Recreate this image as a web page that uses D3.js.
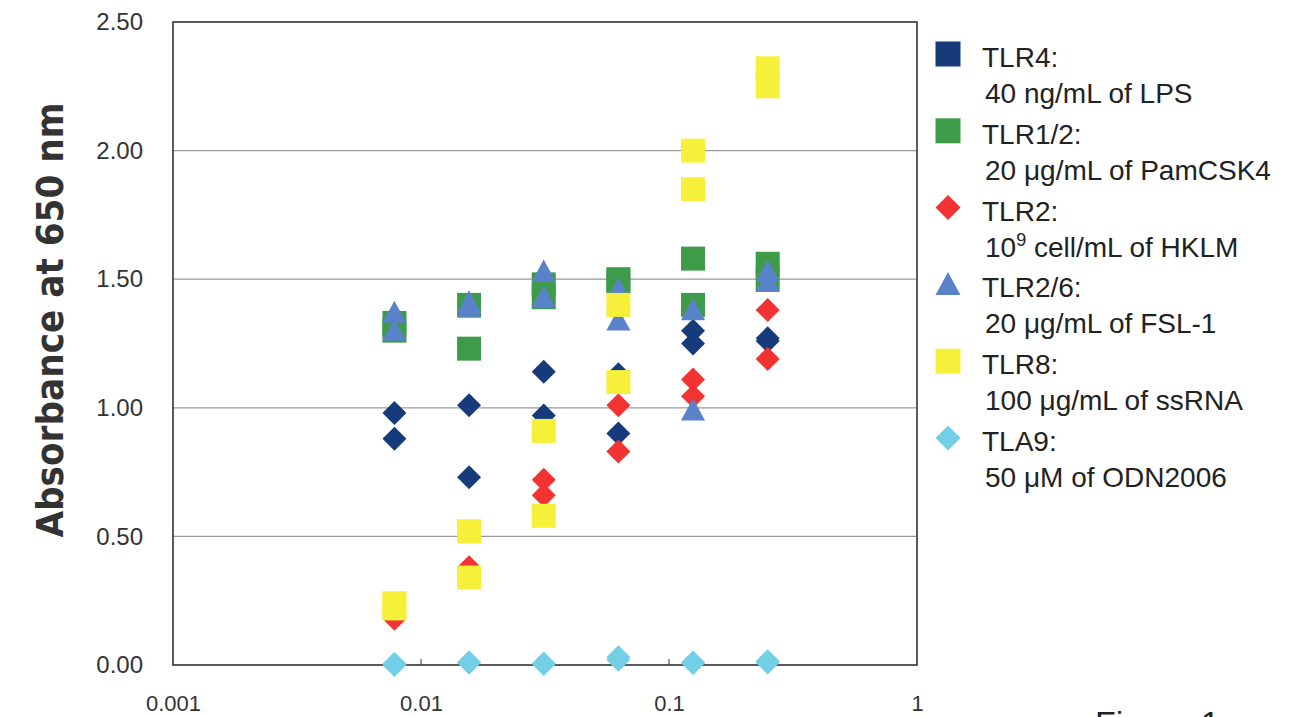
<!DOCTYPE html>
<html>
<head>
<meta charset="utf-8">
<script src="https://cdn.jsdelivr.net/npm/d3@7"></script>
<style>
  body { margin: 0; background: #fff; }
  svg { display: block; font-family: "Liberation Sans", Arial, sans-serif; }
</style>
</head>
<body>
<svg width="1305" height="717"></svg>
<script>
// concentrations (dilution series), two replicate readings per point
var concentrations = [0.0078125, 0.015625, 0.03125, 0.0625, 0.125, 0.25];

var tlr4  = [[0.98, 0.88], [1.01, 0.73], [1.14, 0.97], [1.13, 0.90], [1.30, 1.25], [1.27, 1.26]];
var tlr12 = [[1.33, 1.30], [1.40, 1.23], [1.48, 1.43], [1.50, 1.49], [1.58, 1.40], [1.56, 1.50]];
var tlr2  = [[0.18, 0.20], [0.38, 0.36], [0.72, 0.66], [1.01, 0.83], [1.11, 1.045], [1.38, 1.19]];
var tlr26 = [[1.37, 1.30], [1.41, 1.39], [1.53, 1.43], [1.46, 1.34], [1.38, 0.99], [1.53, 1.49]];
var tlr8  = [[0.24, 0.22], [0.52, 0.34], [0.91, 0.58], [1.40, 1.10], [2.00, 1.85], [2.32, 2.25]];
var tla9  = [[0.005, 0.0], [0.01, 0.01], [0.005, 0.005], [0.03, 0.02], [0.01, 0.008], [0.015, 0.01]];

var seriesNames = ['TLR4:', 'TLR1/2:', 'TLR2:', 'TLR2/6:', 'TLR8:', 'TLA9:'];
var seriesNotes = ['40 ng/mL of LPS', '20 \u03bcg/mL of PamCSK4', '10|9| cell/mL of HKLM',
                   '20 \u03bcg/mL of FSL-1', '100 \u03bcg/mL of ssRNA', '50 \u03bcM of ODN2006'];
var seriesColors = ['#173a7a', '#3d9b4a', '#f23332', '#5a82c8', '#f7f03a', '#72cfe6'];
var seriesShapes = ['diamond', 'square', 'diamond', 'triangle', 'square', 'diamond'];
var legendShapes = ['square', 'square', 'diamond', 'triangle', 'square', 'diamond'];

var yTicks = [0, 0.5, 1.0, 1.5, 2.0, 2.5];
var xTicks = [0.001, 0.01, 0.1, 1];
var xTickLabels = ['0.001', '0.01', '0.1', '1'];

var svg = d3.select('svg');

var plot = {l: 173, r: 917, t: 22, b: 665};

var x = d3.scaleLog().domain([0.001, 1]).range([plot.l, plot.r]);
var y = d3.scaleLinear().domain([0, 2.5]).range([plot.b, plot.t]);

// custom marker shapes, sized by width in px
var shapeTypes = {
    square: {draw: function(ctx, s) { var h = s / 2; ctx.rect(-h, -h, s, s); }},
    diamond: {draw: function(ctx, s) {
        var h = s / 2;
        ctx.moveTo(0, -h); ctx.lineTo(h, 0); ctx.lineTo(0, h); ctx.lineTo(-h, 0); ctx.closePath();
    }},
    triangle: {draw: function(ctx, s) {
        var h = s / 2;
        ctx.moveTo(0, -h); ctx.lineTo(h, h * 0.85); ctx.lineTo(-h, h * 0.85); ctx.closePath();
    }}
};
function marker(shape, size) {
    return d3.symbol().type(shapeTypes[shape]).size(size)();
}

// gridlines
svg.append('g').selectAll('line')
    .data(yTicks.filter(function(d) { return d > 0 && d < 2.5; }))
    .enter().append('line')
    .attr('x1', plot.l).attr('x2', plot.r)
    .attr('y1', function(d) { return y(d); })
    .attr('y2', function(d) { return y(d); })
    .attr('stroke', '#9a9a9a')
    .attr('stroke-width', 1.2);

// small inner ticks on the x axis
svg.append('g').selectAll('line')
    .data(xTicks.slice(1, 3))
    .enter().append('line')
    .attr('x1', function(d) { return x(d); }).attr('x2', function(d) { return x(d); })
    .attr('y1', plot.b).attr('y2', plot.b - 6)
    .attr('stroke', '#333');

// frame
svg.append('rect')
    .attr('x', plot.l).attr('y', plot.t)
    .attr('width', plot.r - plot.l).attr('height', plot.b - plot.t)
    .attr('fill', 'none')
    .attr('stroke', '#333')
    .attr('stroke-width', 1.6);

// axes
var yAxis = svg.append('g')
    .attr('transform', 'translate(' + plot.l + ',0)')
    .call(d3.axisLeft(y).tickValues(yTicks).tickSize(0).tickPadding(30).tickFormat(d3.format('.2f')));
yAxis.select('.domain').remove();
yAxis.selectAll('text')
    .attr('font-family', '"Liberation Sans", Arial, sans-serif')
    .attr('font-size', 24).attr('fill', '#333');

var xAxis = svg.append('g')
    .attr('transform', 'translate(0,' + plot.b + ')')
    .call(d3.axisBottom(x).tickValues(xTicks).tickSize(0).tickPadding(30)
        .tickFormat(function(d, i) { return xTickLabels[i]; }));
xAxis.select('.domain').remove();
xAxis.selectAll('text')
    .attr('font-family', '"Liberation Sans", Arial, sans-serif')
    .attr('font-size', 22).attr('fill', '#333');

// y axis title
svg.append('text')
    .attr('transform', 'translate(63,320) rotate(-90)')
    .attr('text-anchor', 'middle')
    .attr('font-family', '"DejaVu Sans", sans-serif')
    .attr('font-weight', 'bold')
    .attr('font-size', 38)
    .attr('textLength', 435)
    .attr('lengthAdjust', 'spacingAndGlyphs')
    .attr('fill', '#333')
    .text('Absorbance at 650 nm');

// data points, drawn in legend order
var allSeries = [tlr4, tlr12, tlr2, tlr26, tlr8, tla9];
allSeries.forEach(function(series, si) {
    var pts = [];
    series.forEach(function(reps, ci) {
        reps.forEach(function(v) { pts.push({c: concentrations[ci], v: v}); });
    });
    svg.append('g').selectAll('path')
        .data(pts)
        .enter().append('path')
        .attr('transform', function(d) { return 'translate(' + x(d.c) + ',' + y(d.v) + ')'; })
        .attr('d', marker(seriesShapes[si], 24))
        .attr('fill', seriesColors[si]);
});

// legend
var legend = svg.append('g').attr('font-size', 28).attr('fill', '#222');
seriesNames.forEach(function(name, i) {
    var cy = 54 + i * 76.8;
    legend.append('path')
        .attr('transform', 'translate(948,' + cy + ')')
        .attr('d', marker(legendShapes[i], 25))
        .attr('fill', seriesColors[i]);
    legend.append('text')
        .attr('x', 982).attr('y', cy + 13)
        .text(name);
    var t = legend.append('text')
        .attr('x', 985).attr('y', cy + 49);
    var parts = seriesNotes[i].split('|');
    t.append('tspan').text(parts[0]);
    if (parts.length > 1) {
        t.append('tspan').attr('dy', -11).attr('font-size', 18).text(parts[1]);
        t.append('tspan').attr('dy', 11).text(parts[2]);
    }
});

// caption, cut off at the bottom edge
svg.append('text')
    .attr('x', 1095).attr('y', 735)
    .attr('font-size', 34)
    .attr('fill', '#222')
    .text('Figure 1');
</script>
</body>
</html>
